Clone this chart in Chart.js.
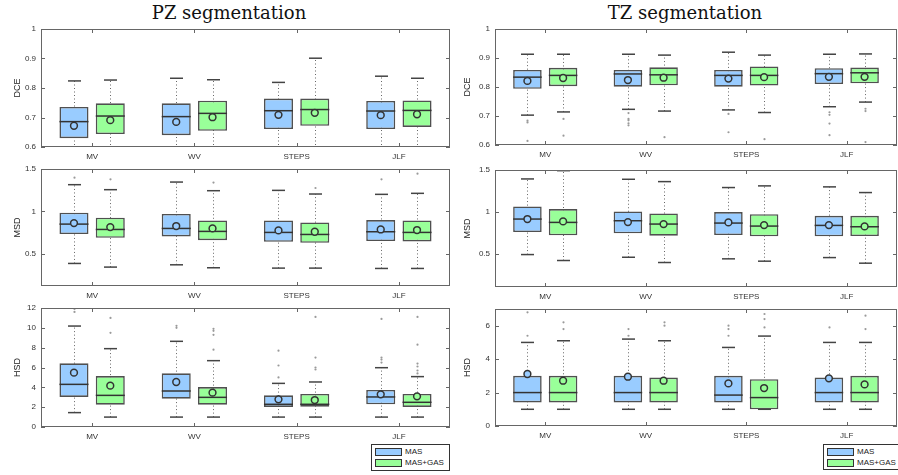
<!DOCTYPE html>
<html>
<head>
<meta charset="utf-8">
<script src="https://cdn.jsdelivr.net/npm/chart.js@4.4.0/dist/chart.umd.min.js"></script>
<style>
  body { margin: 0; background: #fff; width: 898px; height: 475px; position: relative; overflow: hidden;
         font-family: 'Liberation Sans', Arial, sans-serif; }
  canvas { position: absolute; }
  .title { position: absolute; top: 2px; font-family: 'DejaVu Serif', serif; font-size: 18px; color: #111;
           white-space: nowrap; transform: translateX(-50%); }
  .legend { position: absolute; border: 1px solid #333; background: #fff; font-size: 8px; color: #222; box-sizing: border-box; }
  .legend .row { position: absolute; left: 3px; height: 8px; line-height: 8px; white-space: nowrap; }
  .legend .sw { display: inline-block; width: 25px; height: 6px; border: 1.5px solid #333; vertical-align: top; margin-right: 3px; }
</style>
</head>
<body>
<div class="title" style="left:229px">PZ segmentation</div>
<div class="title" style="left:685px">TZ segmentation</div>
<canvas id="pzDce"></canvas>
<canvas id="pzMsd"></canvas>
<canvas id="pzHsd"></canvas>
<canvas id="tzDce"></canvas>
<canvas id="tzMsd"></canvas>
<canvas id="tzHsd"></canvas>
<div id="legendPz" class="legend" style="left:371px; top:444px; width:79px; height:27px;"></div>
<div id="legendTz" class="legend" style="left:823px; top:444px; width:80px; height:26px;"></div>
<script>
const categories = ['MV', 'WV', 'STEPS', 'JLF'];
const seriesNames = ['MAS', 'MAS+GAS'];

// rows per method: [lower whisker, q1, median, q3, upper whisker, mean]
const pzDceMas = [
    [0.50, 0.630, 0.686, 0.736, 0.824, 0.672],
    [0.50, 0.640, 0.703, 0.748, 0.833, 0.685],
    [0.50, 0.661, 0.723, 0.764, 0.819, 0.709],
    [0.50, 0.661, 0.722, 0.756, 0.840, 0.708]
];
const pzDceGas = [
    [0.50, 0.644, 0.705, 0.748, 0.827, 0.691],
    [0.50, 0.655, 0.714, 0.757, 0.828, 0.701],
    [0.50, 0.672, 0.727, 0.764, 0.901, 0.716],
    [0.50, 0.668, 0.724, 0.758, 0.833, 0.711]
];
const pzDceMasOut = [[], [], [], []];
const pzDceGasOut = [[], [], [], []];

const tzDceMas = [
    [0.703, 0.794, 0.834, 0.859, 0.913, 0.821],
    [0.723, 0.801, 0.845, 0.859, 0.913, 0.824],
    [0.721, 0.801, 0.840, 0.859, 0.920, 0.829],
    [0.732, 0.810, 0.846, 0.865, 0.913, 0.835]
];
const tzDceGas = [
    [0.714, 0.803, 0.840, 0.866, 0.913, 0.831],
    [0.717, 0.806, 0.842, 0.868, 0.910, 0.832],
    [0.712, 0.805, 0.840, 0.871, 0.910, 0.834],
    [0.748, 0.813, 0.849, 0.867, 0.914, 0.835]
];
const tzDceMasOut = [[0.684, 0.678, 0.614], [0.710, 0.690, 0.685, 0.675, 0.668], [0.707, 0.644], [0.713, 0.704, 0.674, 0.634]];
const tzDceGasOut = [[0.690, 0.632], [0.627], [0.620], [0.725, 0.717, 0.610]];

const pzMsdMas = [
    [0.386, 0.732, 0.850, 0.984, 1.315, 0.862],
    [0.370, 0.705, 0.799, 0.969, 1.346, 0.827],
    [0.331, 0.642, 0.752, 0.894, 1.248, 0.776],
    [0.327, 0.650, 0.760, 0.898, 1.201, 0.787]
];
const pzMsdGas = [
    [0.343, 0.689, 0.787, 0.925, 1.256, 0.815],
    [0.335, 0.661, 0.764, 0.894, 1.244, 0.799],
    [0.331, 0.630, 0.728, 0.870, 1.205, 0.760],
    [0.327, 0.646, 0.752, 0.894, 1.213, 0.780]
];
const pzMsdMasOut = [[1.398], [], [], [1.378]];
const pzMsdGasOut = [[1.378], [1.340], [1.276], [1.445]];

const tzMsdMas = [
    [0.488, 0.758, 0.913, 1.063, 1.393, 0.913],
    [0.456, 0.742, 0.893, 1.004, 1.389, 0.877],
    [0.437, 0.722, 0.865, 0.996, 1.290, 0.873],
    [0.452, 0.706, 0.837, 0.952, 1.298, 0.841]
];
const tzMsdGas = [
    [0.417, 0.718, 0.873, 1.032, 1.492, 0.885],
    [0.393, 0.714, 0.853, 0.980, 1.361, 0.853],
    [0.409, 0.706, 0.829, 0.972, 1.310, 0.841],
    [0.385, 0.710, 0.821, 0.952, 1.230, 0.825]
];
const tzMsdMasOut = [[], [], [], []];
const tzMsdGasOut = [[], [], [], []];

const pzHsdMas = [
    [1.45, 3.03, 4.30, 6.42, 10.18, 5.48],
    [1.00, 2.86, 3.63, 5.41, 8.64, 4.54],
    [1.00, 2.02, 2.29, 3.19, 4.40, 2.79],
    [1.00, 2.29, 3.03, 3.73, 5.98, 3.29]
];
const pzHsdGas = [
    [1.00, 2.25, 3.19, 5.14, 7.90, 4.17],
    [1.00, 2.25, 2.99, 4.03, 6.69, 3.46],
    [1.00, 2.05, 2.29, 3.33, 4.54, 2.72],
    [1.00, 2.02, 2.49, 3.33, 5.08, 3.09]
];
const pzHsdMasOut = [[11.6, 11.9], [10.0, 10.2], [7.7, 6.2, 5.0], [10.9, 7.0, 6.8, 6.5]];
const pzHsdGasOut = [[12.0, 11.0, 9.5], [9.9, 9.7, 9.3, 7.8], [11.1, 7.0, 6.0, 5.8], [11.1, 8.3, 6.4, 6.1, 5.7, 5.4]];

const tzHsdMas = [
    [1.00, 1.41, 2.00, 3.00, 5.00, 3.11],
    [1.00, 1.41, 2.00, 3.00, 5.20, 2.95],
    [1.00, 1.41, 1.85, 3.00, 4.70, 2.55],
    [1.00, 1.41, 2.00, 2.90, 5.00, 2.85]
];
const tzHsdGas = [
    [1.00, 1.41, 2.00, 3.00, 5.10, 2.71],
    [1.00, 1.41, 2.00, 2.90, 5.10, 2.71],
    [1.00, 1.00, 1.70, 2.80, 5.38, 2.27],
    [1.00, 1.41, 2.00, 3.00, 5.00, 2.49]
];
const tzHsdMasOut = [[6.8, 5.4], [5.8, 5.4], [6.0, 5.8, 5.4], [5.9]];
const tzHsdGasOut = [[7.0, 6.2, 5.8], [6.2, 6.0], [6.7, 6.4, 5.9], [7.0, 6.6, 5.8]];

const dceTicks = [0.6, 0.7, 0.8, 0.9, 1];
const msdTicks = [0.5, 1, 1.5];
const pzHsdTicks = [0, 2, 4, 6, 8, 10, 12];
const tzHsdTicks = [0, 2, 4, 6];

const fills = ['rgb(153,204,255)', 'rgb(153,255,153)'];
const edge = '#505050';

// whiskers, caps, outliers (behind boxes), medians + means (on top), matlab-like frame
const boxExtras = {
    id: 'boxExtras',
    beforeDatasetsDraw(chart) {
        const ctx = chart.ctx, y = chart.scales.y, a = chart.chartArea;
        ctx.save();
        ctx.beginPath();
        ctx.rect(a.left, a.top, a.right - a.left, a.bottom - a.top);
        ctx.clip();
        chart.data.datasets.forEach((ds, i) => {
            chart.getDatasetMeta(i).data.forEach((bar, j) => {
                const r = ds.stats[j];
                const x = Math.round(bar.x) + 0.5;
                ctx.strokeStyle = '#666';
                ctx.lineWidth = 1;
                ctx.setLineDash([1, 2.5]);
                ctx.beginPath();
                ctx.moveTo(x, y.getPixelForValue(r[0]));
                ctx.lineTo(x, y.getPixelForValue(r[4]));
                ctx.stroke();
                ctx.setLineDash([]);
                ctx.strokeStyle = '#444';
                ctx.lineWidth = 1.5;
                [r[0], r[4]].forEach(v => {
                    const py = y.getPixelForValue(v);
                    ctx.beginPath();
                    ctx.moveTo(x - 6.5, py);
                    ctx.lineTo(x + 6.5, py);
                    ctx.stroke();
                });
                ctx.fillStyle = '#9a9a9a';
                ds.outliers[j].forEach(v => {
                    ctx.beginPath();
                    ctx.arc(x, y.getPixelForValue(v), 1.1, 0, Math.PI * 2);
                    ctx.fill();
                });
            });
        });
        ctx.restore();
    },
    afterDatasetsDraw(chart) {
        const ctx = chart.ctx, y = chart.scales.y;
        ctx.save();
        chart.data.datasets.forEach((ds, i) => {
            chart.getDatasetMeta(i).data.forEach((bar, j) => {
                const r = ds.stats[j];
                const half = bar.width / 2;
                ctx.strokeStyle = '#333';
                ctx.lineWidth = 1.5;
                const my = y.getPixelForValue(r[2]);
                ctx.beginPath();
                ctx.moveTo(bar.x - half, my);
                ctx.lineTo(bar.x + half, my);
                ctx.stroke();
                ctx.beginPath();
                ctx.arc(bar.x, y.getPixelForValue(r[5]), 3.4, 0, Math.PI * 2);
                ctx.fillStyle = ds.backgroundColor;
                ctx.fill();
                ctx.stroke();
            });
        });
        ctx.restore();
    },
    afterDraw(chart) {
        const ctx = chart.ctx, a = chart.chartArea, y = chart.scales.y, x = chart.scales.x;
        ctx.save();
        ctx.strokeStyle = '#666';
        ctx.lineWidth = 1;
        ctx.strokeRect(Math.round(a.left) + 0.5, Math.round(a.top) + 0.5,
                       Math.round(a.right - a.left) - 1, Math.round(a.bottom - a.top) - 1);
        ctx.beginPath();
        y.ticks.forEach(t => {
            const py = Math.round(y.getPixelForValue(t.value)) + 0.5;
            ctx.moveTo(a.left, py); ctx.lineTo(a.left + 4, py);
            ctx.moveTo(a.right, py); ctx.lineTo(a.right - 4, py);
        });
        categories.forEach((c, i) => {
            const px = Math.round(x.getPixelForValue(i)) + 0.5;
            ctx.moveTo(px, a.bottom); ctx.lineTo(px, a.bottom - 4);
            ctx.moveTo(px, a.top); ctx.lineTo(px, a.top + 4);
        });
        ctx.stroke();
        ctx.restore();
    }
};

function makePanel(id, pos, yTitle, yMin, yMax, yTicks, stats, outliers) {
    const cv = document.getElementById(id);
    const padTop = 10;
    const xAxisH = 18;
    cv.width = pos.width;
    cv.height = padTop + (pos.bottom - pos.top) + xAxisH;
    cv.style.left = pos.left + 'px';
    cv.style.top = (pos.top - padTop) + 'px';
    new Chart(cv, {
        type: 'bar',
        data: {
            labels: categories,
            datasets: seriesNames.map((name, s) => ({
                label: name,
                data: stats[s].map(r => [r[1], r[3]]),
                stats: stats[s],
                outliers: outliers[s],
                backgroundColor: fills[s],
                borderColor: edge,
                borderWidth: 1.6,
                borderSkipped: false,
                barPercentage: 0.8,
                categoryPercentage: 0.71
            }))
        },
        options: {
            responsive: false,
            animation: false,
            devicePixelRatio: 1,
            layout: { padding: { top: padTop, right: pos.padRight, left: 0, bottom: 0 } },
            plugins: { legend: { display: false }, tooltip: { enabled: false } },
            scales: {
                x: {
                    grid: { display: false, drawTicks: false },
                    border: { display: false },
                    ticks: { color: '#333', font: { size: 8, family: "'Liberation Sans', Arial" }, padding: 5 },
                    afterFit: s => { s.height = xAxisH; }
                },
                y: {
                    min: yMin,
                    max: yMax,
                    grid: { display: false, drawTicks: false },
                    border: { display: false },
                    afterBuildTicks: s => { s.ticks = yTicks.map(v => ({ value: v })); },
                    ticks: { color: '#333', font: { size: 8, family: "'Liberation Sans', Arial" }, padding: 5,
                             callback: v => String(v) },
                    title: { display: true, text: yTitle, color: '#222',
                             font: { size: 9, family: "'Liberation Sans', Arial" }, padding: { top: pos.titlePad, bottom: 0 } },
                    afterFit: s => { s.width = pos.yWidth; }
                }
            }
        },
        plugins: [boxExtras]
    });
}

const leftCol = { left: 0, width: 452, padRight: 2, yWidth: 41, titlePad: 12 };
const rightCol = { left: 452, width: 446, padRight: 1, yWidth: 43, titlePad: 10 };

makePanel('pzDce', Object.assign({ top: 29, bottom: 147 }, leftCol), 'DCE', 0.6, 1, dceTicks,
          [pzDceMas, pzDceGas], [pzDceMasOut, pzDceGasOut]);
makePanel('pzMsd', Object.assign({ top: 169, bottom: 286 }, leftCol), 'MSD', 0.12, 1.5, msdTicks,
          [pzMsdMas, pzMsdGas], [pzMsdMasOut, pzMsdGasOut]);
makePanel('pzHsd', Object.assign({ top: 308, bottom: 427 }, leftCol), 'HSD', 0, 12, pzHsdTicks,
          [pzHsdMas, pzHsdGas], [pzHsdMasOut, pzHsdGasOut]);
makePanel('tzDce', Object.assign({ top: 29, bottom: 145 }, rightCol), 'DCE', 0.6, 1, dceTicks,
          [tzDceMas, tzDceGas], [tzDceMasOut, tzDceGasOut]);
makePanel('tzMsd', Object.assign({ top: 170, bottom: 287 }, rightCol), 'MSD', 0.1, 1.5, msdTicks,
          [tzMsdMas, tzMsdGas], [tzMsdMasOut, tzMsdGasOut]);
makePanel('tzHsd', Object.assign({ top: 309, bottom: 426 }, rightCol), 'HSD', 0, 7, tzHsdTicks,
          [tzHsdMas, tzHsdGas], [tzHsdMasOut, tzHsdGasOut]);

// legends
['legendPz', 'legendTz'].forEach(id => {
    const el = document.getElementById(id);
    seriesNames.forEach((name, s) => {
        const row = document.createElement('div');
        row.className = 'row';
        row.style.top = (3 + s * 11) + 'px';
        const sw = document.createElement('span');
        sw.className = 'sw';
        sw.style.background = fills[s];
        row.appendChild(sw);
        row.appendChild(document.createTextNode(name));
        el.appendChild(row);
    });
});
</script>
</body>
</html>
